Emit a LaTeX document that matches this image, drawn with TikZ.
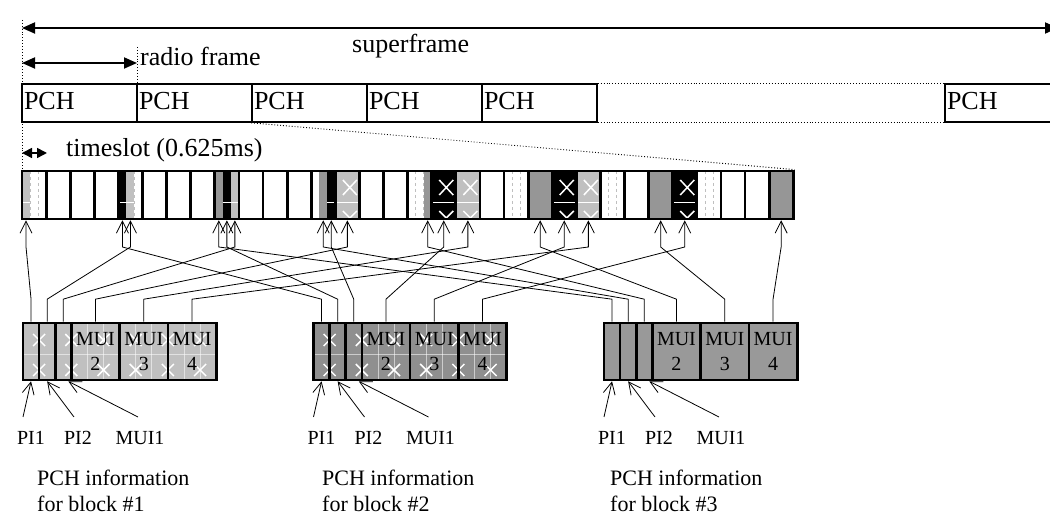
\documentclass[tikz,border=0pt]{standalone}
\usepackage{fontspec}
\setmainfont{Liberation Serif}
\usetikzlibrary{arrows.meta}
\usetikzlibrary{calc}
\pgfdeclarelayer{edgelayer}
\pgfdeclarelayer{nodelayer}
\pgfsetlayers{edgelayer,nodelayer,main}
\definecolor{lightslot}{HTML}{C0C0C0}
\definecolor{midslot}{HTML}{969696}
\definecolor{blockone}{HTML}{C0C0C0}
\definecolor{blocktwo}{HTML}{8F8F8F}
\definecolor{blockthree}{HTML}{999999}
\tikzstyle{none}=[inner sep=0pt]
\tikzstyle{transition}=[-{Straight Barb[length=12pt,width=12pt]},draw=black,line width=0.8pt]
\tikzstyle{extent}=[{Triangle[length=13pt,width=11pt]}-{Triangle[length=13pt,width=11pt]},draw=black,line width=1.8pt]
\tikzstyle{shortextent}=[{Triangle[length=10pt,width=10pt]}-{Triangle[length=10pt,width=10pt]},draw=black,line width=1.6pt]
\tikzstyle{dotguide}=[dotted,draw=black,line width=0.9pt]
\tikzstyle{subline}=[dashed,draw=black!25,line width=0.6pt]
\tikzstyle{xmark}=[draw=white,line width=1.5pt]
\tikzstyle{gridline}=[draw=white,line width=0.8pt,opacity=0.55]
\tikzstyle{pchbox}=[draw=black,line width=1.6pt,minimum height=38pt,text width=111pt,inner sep=2pt,align=left,text height=17pt,text depth=3pt,font=\fontsize{26}{30}\selectfont]
\tikzstyle{slotbox}=[draw=black,line width=2.8pt,minimum width=24.1pt,minimum height=48pt,inner sep=0pt]
\tikzstyle{narrowcell}=[draw=black,line width=2.6pt,minimum width=16.1pt,minimum height=57pt,inner sep=0pt]
\tikzstyle{widecell}=[narrowcell,minimum width=48.3pt,align=center,font=\fontsize{20}{25}\selectfont]
\tikzstyle{heading}=[inner sep=0pt,anchor=base west,font=\fontsize{26}{30}\selectfont]
\tikzstyle{fieldlabel}=[inner sep=0pt,anchor=base,font=\fontsize{20}{24}\selectfont]
\tikzstyle{blockinfo}=[inner sep=0pt,anchor=north west,align=left,font=\fontsize{22}{26}\selectfont]

\begin{document}
\begin{tikzpicture}[x=1pt,y=-1pt]
	\useasboundingbox (0,0) rectangle (1050,518);
	\begin{pgfonlayer}{nodelayer}
		% frames
		\node [style=pchbox] (p1) at (79.5,103) {PCH};
		\node [style=pchbox] (p2) at (194.5,103) {PCH};
		\node [style=pchbox] (p3) at (309.5,103) {PCH};
		\node [style=pchbox] (p4) at (424.5,103) {PCH};
		\node [style=pchbox] (p5) at (539.5,103) {PCH};
		\node [style=pchbox] (p6) at (1002.5,103) {PCH};
		\node [style=heading] (sf) at (352,53) {superframe};
		\node [style=heading] (rf) at (140,66) {radio frame};
		\node [style=heading] (ts) at (66,157) {timeslot (0.625ms)};
		\coordinate (sfl) at (22,28);
		\coordinate (sfr) at (1058,28);
		\coordinate (rfl) at (22,63);
		\coordinate (rfr) at (137,63);
		\coordinate (tsl) at (22,153);
		\coordinate (tsr) at (47,153);
		% timeslots
		\foreach \i in {0,...,31}
			\node [style=slotbox] (s\i) at (34.05+24.1*\i,195) {};
		% PCH blocks
		\foreach \b/\L/\tx in {1/23/37,2/313.5/322,3/604/610} {
			\node [style=narrowcell] (c\b1) at (\L+8.05,351.5) {};
			\node [style=narrowcell] (c\b2) at (\L+24.15,351.5) {};
			\node [style=narrowcell] (c\b3) at (\L+40.25,351.5) {};
			\node [style=widecell] (c\b4) at (\L+72.45,351.5) {MUI\\2};
			\node [style=widecell] (c\b5) at (\L+120.75,351.5) {MUI\\3};
			\node [style=widecell] (c\b6) at (\L+169.05,351.5) {MUI\\4};
			\node [style=fieldlabel] (l\b1) at (\L+8,445) {PI1};
			\node [style=fieldlabel] (l\b2) at (\L+55,445) {PI2};
			\node [style=fieldlabel] (l\b3) at (\L+117,445) {MUI1};
			\node [style=blockinfo] (i\b) at (\tx,470) {PCH information\\for block \#\b};
		}
	\end{pgfonlayer}
	\begin{pgfonlayer}{edgelayer}
		% slot contents
		\foreach \i in {0,4,...,28} {
			\draw [style=subline] (30.03+24.1*\i,171) -- ++(0,48);
			\draw [style=subline] (38.07+24.1*\i,171) -- ++(0,48);
		}
		\foreach \b/\col in {0/lightslot,1/black,2/midslot} {
			\foreach \k in {0,1,2}
				\fill [\col] (22+96.4*\b+104.433*\k,171) rectangle ++(8.033,48);
			\foreach \m in {0,1,2}
				\fill [\col] (335.3+96.4*\b+120.5*\m,171) rectangle ++(24.1,48);
		}
		\foreach \b in {0,1} {
			\foreach \k in {0,1,2}
				\draw [style=xmark,line width=1pt] (22+96.4*\b+104.433*\k,203) -- ++(8.033,0);
			\foreach \m in {0,1,2} {
				\draw [style=xmark,line width=1pt] (335.3+96.4*\b+120.5*\m,203) -- ++(24.1,0);
				\draw [style=xmark] (342.85+96.4*\b+120.5*\m,180) -- ++(14,15) ++(-14,0) -- ++(14,-15);
				\draw [style=xmark] (342.85+96.4*\b+120.5*\m,211) -- ++(7,7) -- ++(7,-7);
			}
		}
		% block fills
		\foreach \b/\col in {0/blockone,1/blocktwo,2/blockthree}
			\fill [\col] (23+290.5*\b,323) rectangle ++(193.2,57);
		\foreach \b in {0,1} {
			\foreach \k in {1,...,11}
				\draw [style=gridline] (23+290.5*\b+16.1*\k,323) -- ++(0,57);
			\draw [style=gridline] (23+290.5*\b,354) -- ++(193.2,0);
			\foreach \k in {0,...,5} {
				\draw [style=xmark] (33.1+290.5*\b+32.2*\k,334) -- ++(12,12) ++(-12,0) -- ++(12,-12);
				\draw [style=xmark] (33.1+290.5*\b+32.2*\k,364) -- ++(12,12) ++(-12,0) -- ++(12,-12);
			}
		}
		% mapping of fields to timeslots
		\foreach \b/\L in {1/23,2/313.5,3/604} {
			\foreach \f/\dx in {1/4.02,2/108.45,3/212.88,4/325.35,5/445.85,6/566.35} {
				\coordinate (j\b\f) at (22+96.4*\b-96.4+\dx,247);
				\coordinate (t\b\f) at (22+96.4*\b-96.4+\dx,220.3);
				\draw [style=transition] (c\b\f.north) -- ++(0,-22.5) -- (j\b\f) -- (t\b\f);
			}
			\coordinate (f\b1) at (\L,417);
			\coordinate (f\b2) at (\L+51,417);
			\coordinate (f\b3) at (\L+115,417);
			\draw [style=transition] (f\b1) -- (c\b1.south);
			\draw [style=transition] (f\b2) -- (c\b2.south);
			\draw [style=transition] (f\b3) -- ($(c\b3.south)+(5,0)$);
		}
		% spans and guides
		\draw [style=extent] (sfl) -- (sfr);
		\draw [style=extent] (rfl) -- (rfr);
		\draw [style=shortextent] (tsl) -- (tsr);
		\draw [style=dotguide] (22,20) -- (22,168);
		\draw [style=dotguide] (137,47) -- (137,84);
		\draw [style=dotguide] (p5.north east) -- (p6.north west);
		\draw [style=dotguide] (p5.south east) -- (p6.south west);
		\draw [style=dotguide] (p3.south west) -- (s31.north east);
	\end{pgfonlayer}
\end{tikzpicture}
\end{document}
